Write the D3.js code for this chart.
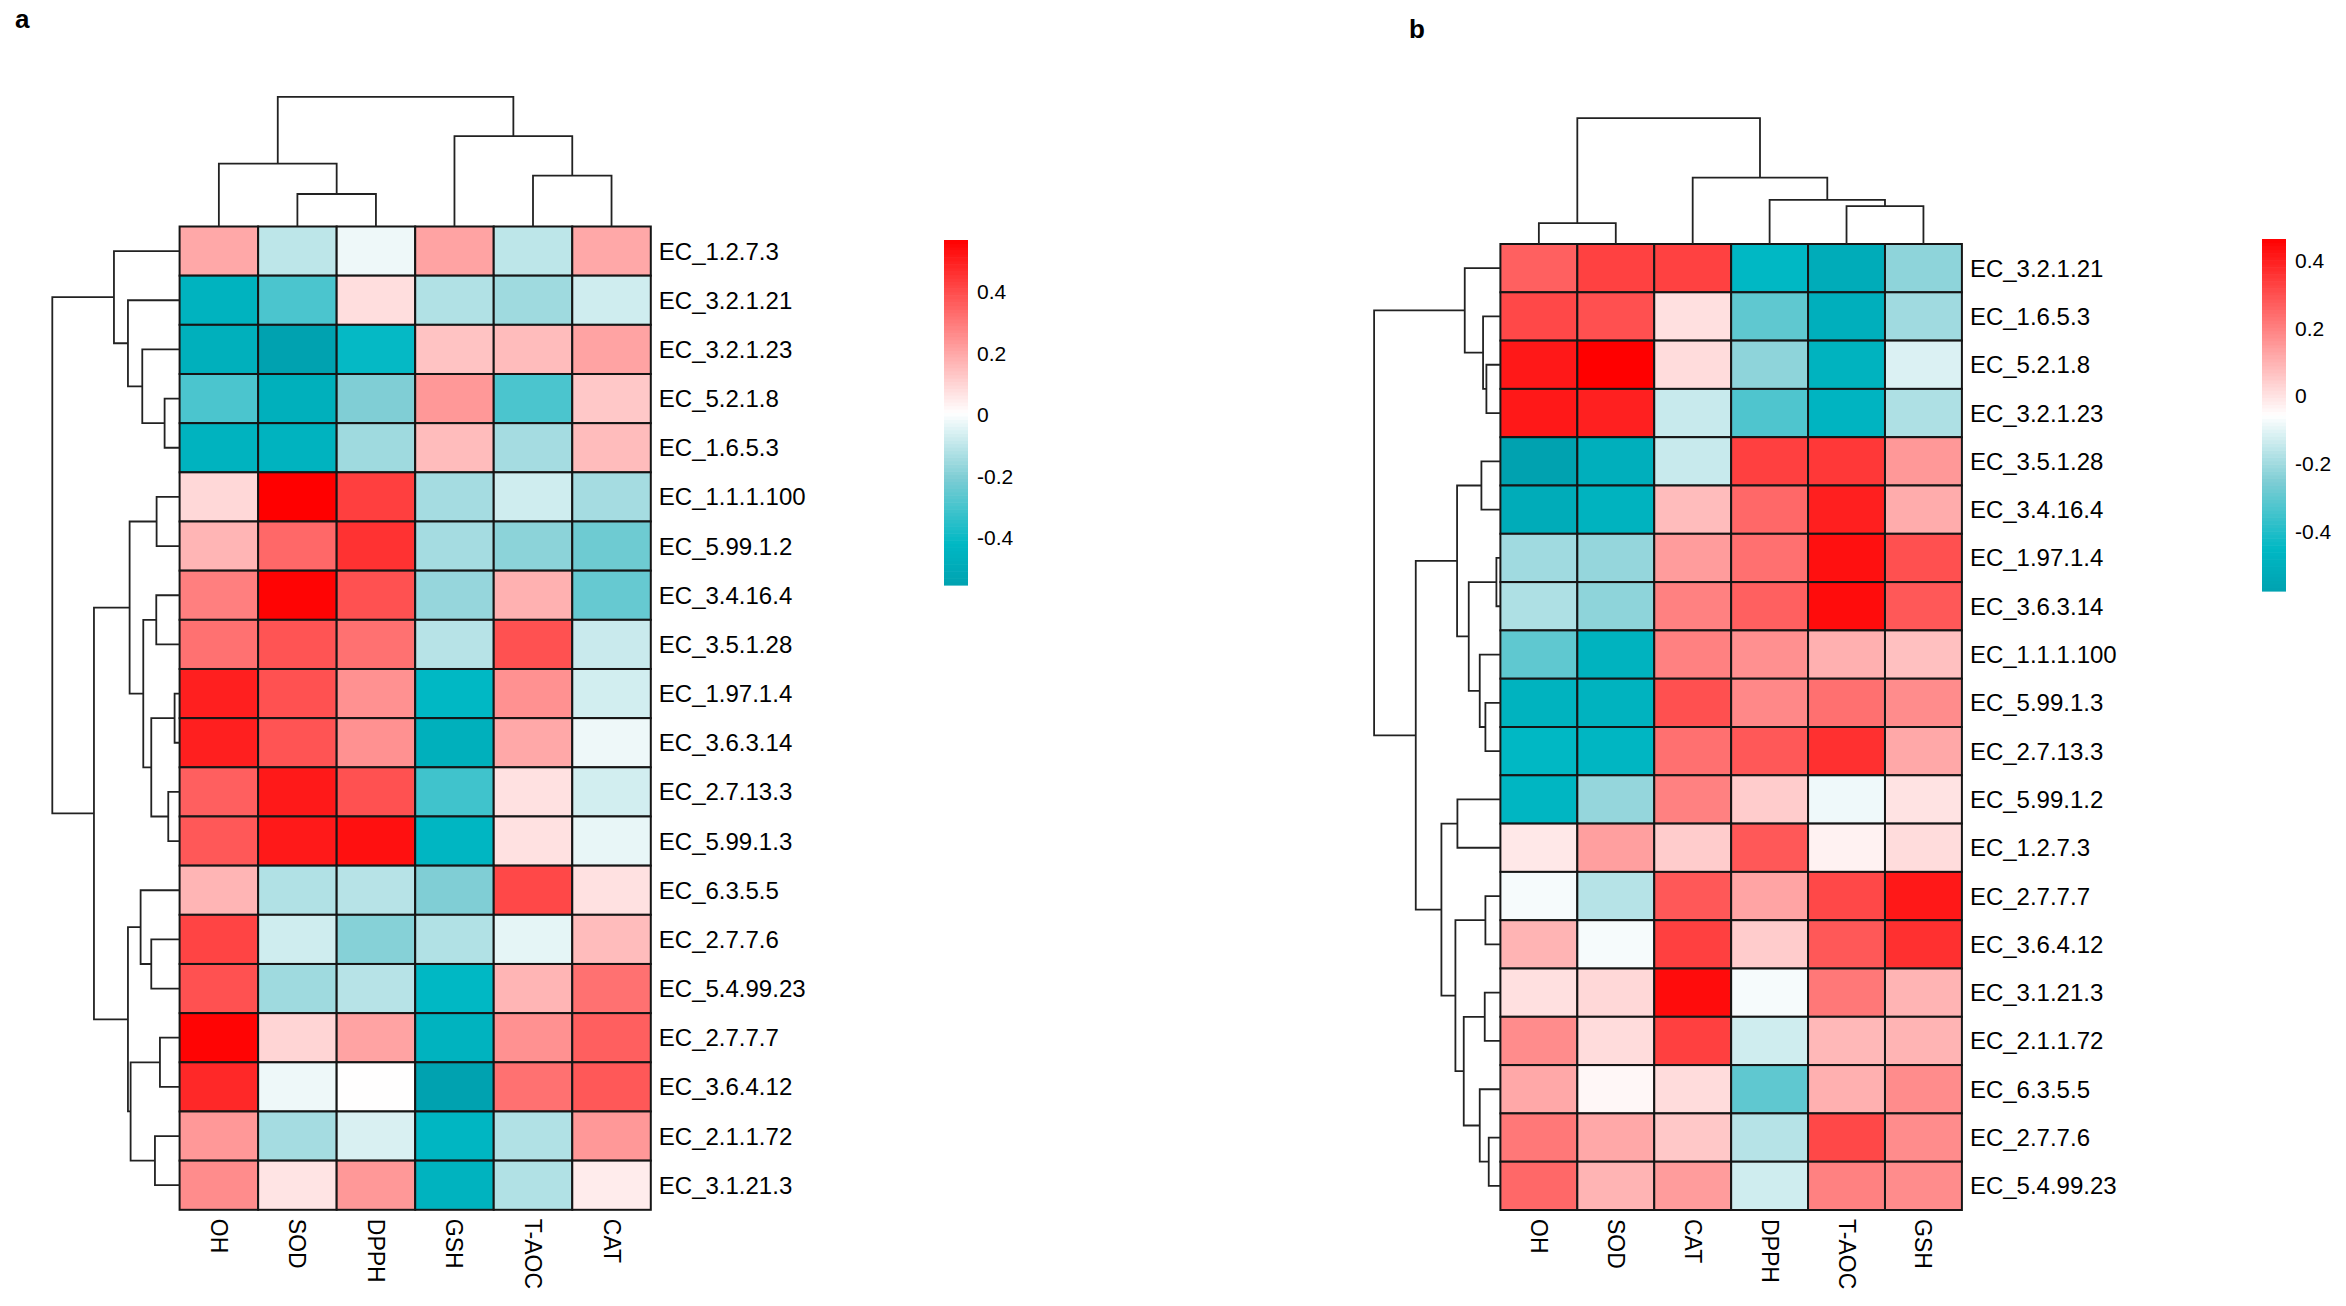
<!DOCTYPE html>
<html>
<head>
<meta charset="utf-8">
<script src="https://cdn.jsdelivr.net/npm/d3@7"></script>
<style>
  body { margin: 0; background: #fff; }
  text { font-family: "Liberation Sans", Arial, sans-serif; fill: #000; }
</style>
</head>
<body>
<svg id="chart" width="2346" height="1306"></svg>
<script>
// ---- panel a data ----
var rowsA = ["EC_1.2.7.3", "EC_3.2.1.21", "EC_3.2.1.23", "EC_5.2.1.8", "EC_1.6.5.3",
  "EC_1.1.1.100", "EC_5.99.1.2", "EC_3.4.16.4", "EC_3.5.1.28", "EC_1.97.1.4",
  "EC_3.6.3.14", "EC_2.7.13.3", "EC_5.99.1.3", "EC_6.3.5.5", "EC_2.7.7.6",
  "EC_5.4.99.23", "EC_2.7.7.7", "EC_3.6.4.12", "EC_2.1.1.72", "EC_3.1.21.3"];
var colsA = ["OH", "SOD", "DPPH", "GSH", "T-AOC", "CAT"];
var valuesA = [
  [0.20, -0.10, -0.02, 0.21, -0.10, 0.20],
  [-0.45, -0.29, 0.08, -0.12, -0.15, -0.07],
  [-0.47, -0.553, -0.41, 0.14, 0.155, 0.21],
  [-0.29, -0.47, -0.20, 0.235, -0.29, 0.13],
  [-0.45, -0.45, -0.15, 0.155, -0.14, 0.155],
  [0.094, 0.569, 0.43, -0.14, -0.07, -0.14],
  [0.17, 0.34, 0.46, -0.14, -0.18, -0.23],
  [0.29, 0.56, 0.39, -0.165, 0.18, -0.245],
  [0.32, 0.385, 0.32, -0.11, 0.39, -0.08],
  [0.50, 0.39, 0.25, -0.42, 0.25, -0.065],
  [0.50, 0.385, 0.25, -0.47, 0.20, -0.02],
  [0.36, 0.515, 0.39, -0.31, 0.075, -0.065],
  [0.375, 0.515, 0.534, -0.43, 0.075, -0.03],
  [0.17, -0.12, -0.11, -0.20, 0.41, 0.075],
  [0.42, -0.07, -0.19, -0.12, -0.035, 0.155],
  [0.39, -0.15, -0.11, -0.42, 0.17, 0.32],
  [0.56, 0.10, 0.21, -0.45, 0.25, 0.36],
  [0.48, -0.02, 0.01, -0.55, 0.32, 0.375],
  [0.235, -0.14, -0.055, -0.43, -0.12, 0.235],
  [0.26, 0.067, 0.235, -0.45, -0.12, 0.05]
];
// hclust style merges: negative = leaf (1-based), positive = earlier merge
var rowTreeA = [[-10, -11, 0.15], [-12, -13, 0.34], [-4, -5, 0.45], [-17, -18, 0.59],
  [-6, -7, 0.69], [-8, -9, 0.70], [-19, -20, 0.74], [1, 2, 0.85], [-15, -16, 0.85],
  [6, 8, 1.09], [-3, 3, 1.12], [-14, 9, 1.17], [4, 7, 1.47], [5, 10, 1.50],
  [-2, 11, 1.55], [12, 13, 1.55], [-1, 15, 1.97], [14, 16, 2.57], [17, 18, 3.82]];
var colTreeA = [[-2, -3, 0.325], [-5, -6, 0.509], [-1, 1, 0.629], [-4, 2, 0.904], [3, 4, 1.296]];

// ---- panel b data ----
var rowsB = ["EC_3.2.1.21", "EC_1.6.5.3", "EC_5.2.1.8", "EC_3.2.1.23", "EC_3.5.1.28",
  "EC_3.4.16.4", "EC_1.97.1.4", "EC_3.6.3.14", "EC_1.1.1.100", "EC_5.99.1.3",
  "EC_2.7.13.3", "EC_5.99.1.2", "EC_1.2.7.3", "EC_2.7.7.7", "EC_3.6.4.12",
  "EC_3.1.21.3", "EC_2.1.1.72", "EC_6.3.5.5", "EC_2.7.7.6", "EC_5.4.99.23"];
var colsB = ["OH", "SOD", "CAT", "DPPH", "T-AOC", "GSH"];
var valuesB = [
  [0.267, 0.33, 0.33, -0.45, -0.52, -0.227],
  [0.316, 0.30, 0.007, -0.30, -0.50, -0.20],
  [0.413, 0.462, 0.015, -0.227, -0.48, -0.11],
  [0.413, 0.397, -0.14, -0.326, -0.47, -0.178],
  [-0.574, -0.50, -0.14, 0.332, 0.348, 0.153],
  [-0.52, -0.48, 0.08, 0.25, 0.40, 0.113],
  [-0.20, -0.216, 0.145, 0.234, 0.43, 0.30],
  [-0.178, -0.227, 0.20, 0.267, 0.438, 0.284],
  [-0.30, -0.48, 0.20, 0.17, 0.105, 0.072],
  [-0.48, -0.48, 0.30, 0.186, 0.234, 0.177],
  [-0.45, -0.46, 0.234, 0.284, 0.364, 0.121],
  [-0.46, -0.216, 0.20, 0.048, -0.08, 0.0],
  [-0.009, 0.138, 0.048, 0.284, -0.03, 0.015],
  [-0.07, -0.166, 0.284, 0.129, 0.316, 0.413],
  [0.096, -0.07, 0.332, 0.048, 0.284, 0.364],
  [0.007, 0.024, 0.438, -0.07, 0.218, 0.096],
  [0.177, 0.015, 0.332, -0.128, 0.089, 0.096],
  [0.121, -0.04, 0.015, -0.30, 0.105, 0.177],
  [0.218, 0.121, 0.056, -0.166, 0.316, 0.177],
  [0.25, 0.096, 0.145, -0.128, 0.20, 0.177]
];
var rowTreeB = [[-7, -8, 0.12], [-19, -20, 0.35], [-3, -4, 0.42], [-10, -11, 0.45],
  [-14, -15, 0.45], [-16, -17, 0.47], [-2, 3, 0.52], [-5, -6, 0.57], [-9, 4, 0.62],
  [-18, 2, 0.62], [1, 9, 0.95], [-1, 7, 1.07], [6, 10, 1.10], [-12, -13, 1.29],
  [8, 11, 1.30], [5, 13, 1.35], [14, 16, 1.77], [15, 17, 2.54], [12, 18, 3.79]];
var colTreeB = [[-1, -2, 0.209], [-5, -6, 0.379], [-4, 2, 0.442], [-3, 3, 0.663], [1, 4, 1.258]];

var legendTicks = [-0.4, -0.2, 0, 0.2, 0.4];

var svg = d3.select("#chart");
svg.append("rect").attr("width", 2346).attr("height", 1306).attr("fill", "#fff");

// teal -> white -> red, as fraction of the data range
var ramp = d3.scaleLinear()
  .domain([0, 0.12, 0.31, 0.5, 1])
  .range(["#00a2b0", "#00b8c4", "#7dcdd4", "#ffffff", "#ff0000"])
  .interpolate(d3.interpolateRgb);

// positions of every merge node, given leaf centers
function treeNodes(merges, leafPos) {
  var nodes = [];
  function get(id) {
    if (id < 0) return { pos: leafPos[-id - 1], h: 0 };
    return nodes[id - 1];
  }
  merges.forEach(function(m) {
    var a = get(m[0]), b = get(m[1]);
    nodes.push({ pos: (a.pos + b.pos) / 2, h: m[2], a: a, b: b });
  });
  return nodes;
}

function drawPanel(p) {
  var g = svg.append("g");
  var x = d3.scaleBand().domain(p.cols).range([p.left, p.right]);
  var y = d3.scaleBand().domain(p.rows).range([p.top, p.bottom]);
  var ext = d3.extent(d3.merge(p.values));
  var frac = d3.scaleLinear().domain(ext).range([0, 1]);
  var color = function(v) { return ramp(frac(v)); };

  // cells
  var cells = [];
  p.values.forEach(function(r, i) {
    r.forEach(function(v, j) { cells.push({ row: p.rows[i], col: p.cols[j], v: v }); });
  });
  g.selectAll("rect.cell").data(cells).enter().append("rect")
    .attr("class", "cell")
    .attr("x", d => x(d.col))
    .attr("y", d => y(d.row))
    .attr("width", x.bandwidth())
    .attr("height", y.bandwidth())
    .attr("fill", d => color(d.v))
    .attr("stroke", "#151515")
    .attr("stroke-width", 2);

  // row labels
  g.selectAll("text.rowlab").data(p.rows).enter().append("text")
    .attr("x", p.right + 8)
    .attr("y", d => y(d) + y.bandwidth() / 2)
    .attr("dominant-baseline", "central")
    .attr("font-size", 24)
    .text(d => d);

  // column labels, rotated
  g.selectAll("text.collab").data(p.cols).enter().append("text")
    .attr("transform", d => "translate(" + (x(d) + x.bandwidth() / 2) + "," + (p.bottom + 9) + ") rotate(90)")
    .attr("dominant-baseline", "central")
    .attr("font-size", 23)
    .text(d => d);

  // row dendrogram
  var rowNodes = treeNodes(p.rowTree, p.rows.map(r => y(r) + y.bandwidth() / 2));
  var hx = d3.scaleLinear().domain([0, p.rowTree[p.rowTree.length - 1][2]])
    .range([p.left, p.left - p.rowTreeW]);
  g.selectAll("path.rtree").data(rowNodes).enter().append("path")
    .attr("d", n => "M" + hx(n.a.h) + "," + n.a.pos + "H" + hx(n.h) + "V" + n.b.pos + "H" + hx(n.b.h))
    .attr("fill", "none").attr("stroke", "#222").attr("stroke-width", 1.8);

  // column dendrogram
  var colNodes = treeNodes(p.colTree, p.cols.map(c => x(c) + x.bandwidth() / 2));
  var hy = d3.scaleLinear().domain([0, p.colTree[p.colTree.length - 1][2]])
    .range([p.top, p.top - p.colTreeH]);
  g.selectAll("path.ctree").data(colNodes).enter().append("path")
    .attr("d", n => "M" + n.a.pos + "," + hy(n.a.h) + "V" + hy(n.h) + "H" + n.b.pos + "V" + hy(n.b.h))
    .attr("fill", "none").attr("stroke", "#222").attr("stroke-width", 1.8);

  // colour legend
  var ly = d3.scaleLinear().domain(ext).range([p.legBottom, p.legTop]);
  var nSteps = 100, step = (ext[1] - ext[0]) / nSteps;
  var steps = d3.range(nSteps).map(k => ext[0] + k * step);
  g.selectAll("rect.leg").data(steps).enter().append("rect")
    .attr("x", p.legLeft)
    .attr("y", d => ly(d + step))
    .attr("width", p.legRight - p.legLeft)
    .attr("height", d => ly(d) - ly(d + step) + 0.6)
    .attr("fill", d => color(d + step / 2));
  g.selectAll("text.legtick").data(legendTicks).enter().append("text")
    .attr("x", p.legRight + 9)
    .attr("y", d => ly(d))
    .attr("dominant-baseline", "central")
    .attr("font-size", 21)
    .attr("fill", "#111")
    .text(d => String(d));

  // panel letter
  g.append("text")
    .attr("x", p.letterX).attr("y", p.letterY)
    .attr("font-family", "'Liberation Serif', 'Times New Roman', serif")
    .attr("font-weight", "bold")
    .attr("font-size", 26)
    .text(p.letter);
}

drawPanel({
  rows: rowsA, cols: colsA, values: valuesA, rowTree: rowTreeA, colTree: colTreeA,
  left: 179.6, right: 650.8, top: 226.5, bottom: 1209.8,
  rowTreeW: 127.3, colTreeH: 129.6,
  legLeft: 944, legRight: 968, legTop: 240, legBottom: 585,
  letter: "a", letterX: 15, letterY: 28
});

drawPanel({
  rows: rowsB, cols: colsB, values: valuesB, rowTree: rowTreeB, colTree: colTreeB,
  left: 1500.4, right: 1961.9, top: 244, bottom: 1210,
  rowTreeW: 126.3, colTreeH: 125.8,
  legLeft: 2262, legRight: 2286, legTop: 239, legBottom: 591,
  letter: "b", letterX: 1409, letterY: 38
});
</script>
</body>
</html>
